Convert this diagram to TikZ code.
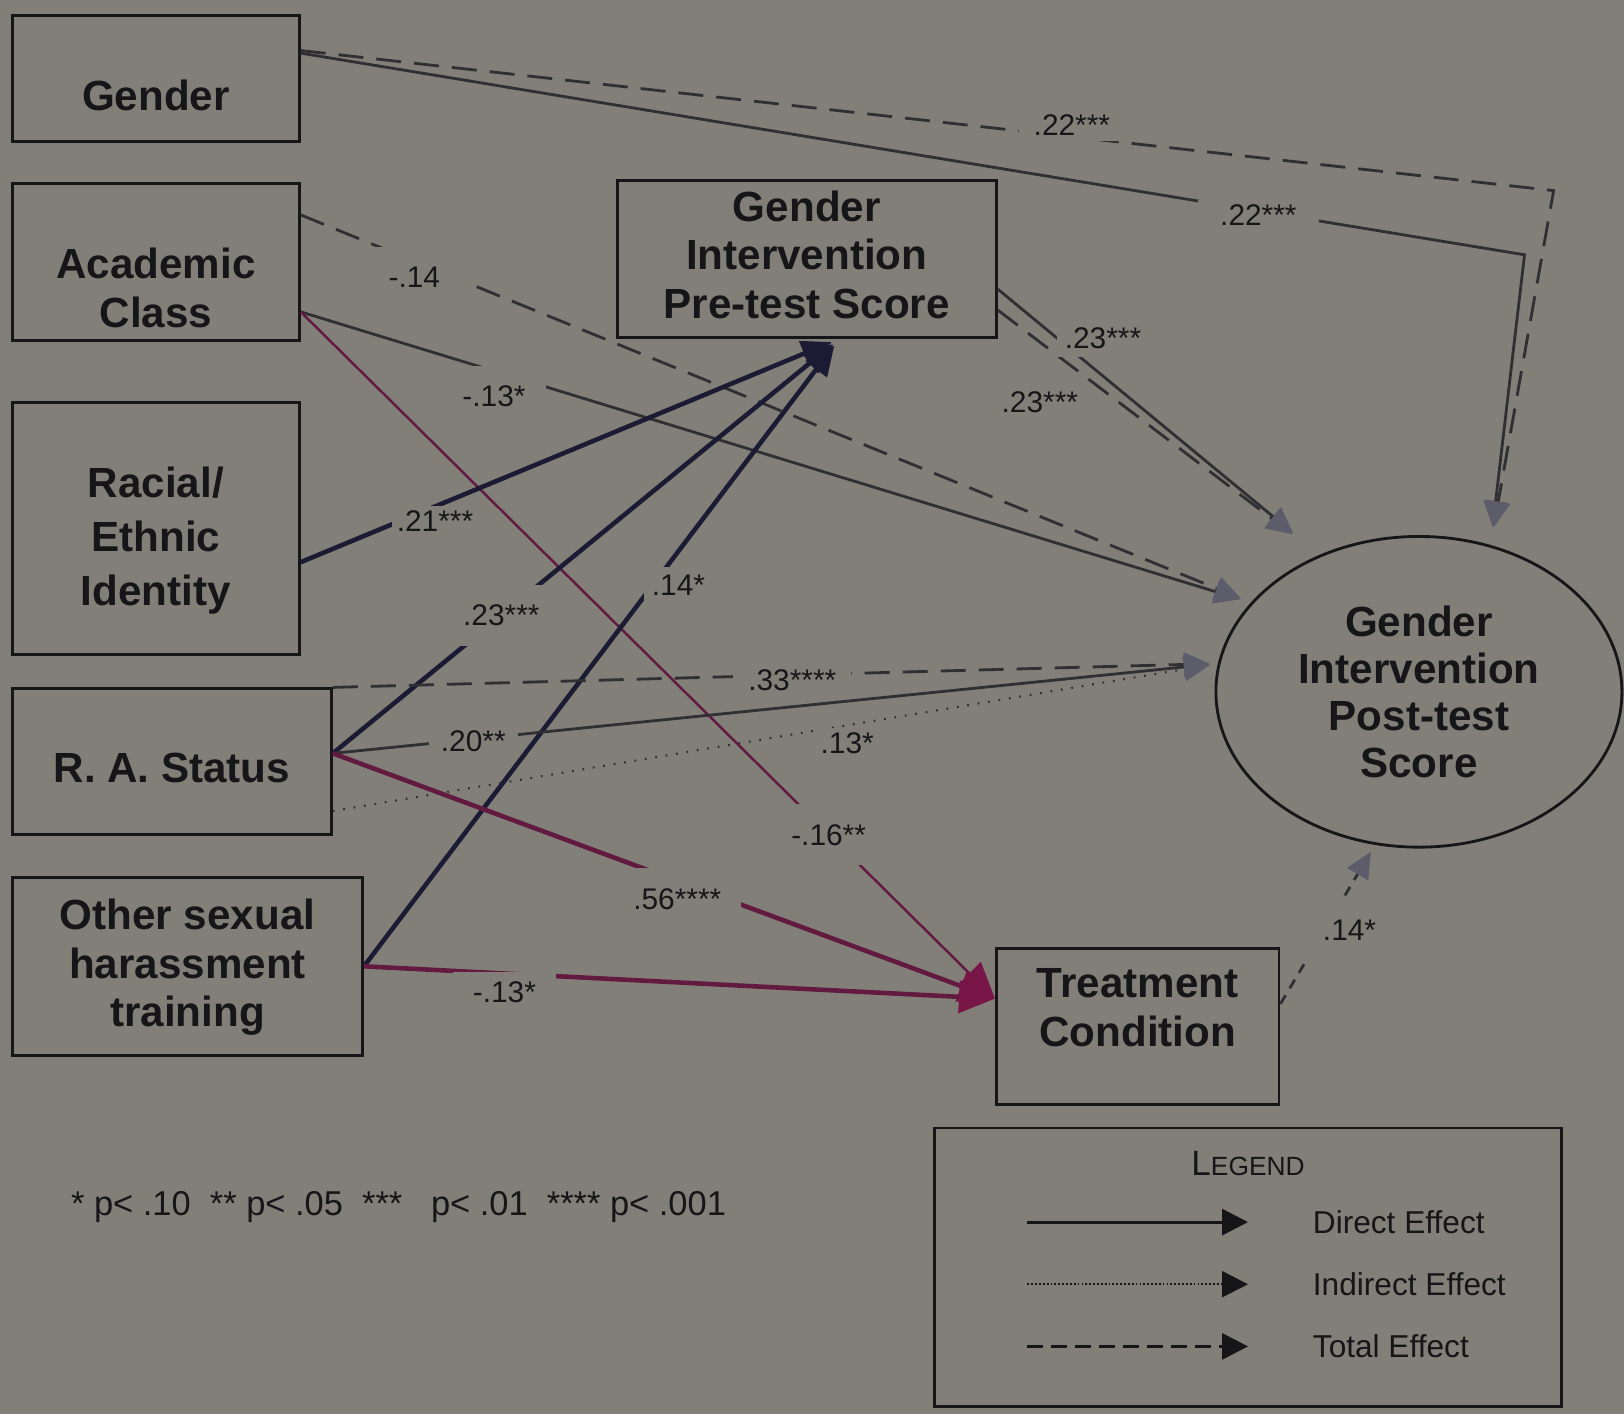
\documentclass[tikz,border=0pt]{standalone}
\usepackage{fontspec}
\setmainfont{Liberation Sans}
\usepackage{tikz}
\usetikzlibrary{shapes.geometric, arrows.meta}
\usepackage{xcolor}
\definecolor{bg}{RGB}{130,127,121}
\definecolor{ink}{RGB}{22,22,24}
\definecolor{navy}{RGB}{28,27,52}
\definecolor{plum}{RGB}{98,26,64}
\definecolor{plumtip}{RGB}{120,22,72}
\definecolor{graytip}{RGB}{92,92,106}
\definecolor{pathgray}{RGB}{48,48,52}

\begin{document}
\begin{tikzpicture}[x=1mm, y=-1mm,
    box/.style={draw=ink, line width=0.8pt, inner sep=0pt},
    boxtext/.style={font=\bfseries\fontsize{12}{13.9}\selectfont, align=center, text=ink},
    lbl/.style={fill=bg, font=\fontsize{8.5}{10}\selectfont, text=ink},
    legtext/.style={font=\fontsize{9}{11}\selectfont, text=ink, inner sep=0pt},
    directline/.style={pathgray, line width=0.8pt},
    totalline/.style={pathgray, line width=0.8pt, dash pattern=on 2.5mm off 1.3mm},
    indirectline/.style={pathgray, line width=0.6pt, dash pattern=on 0.5pt off 2.5pt},
    topost/.style={-{Triangle[length=2.6mm, width=2.4mm, color=graytip]}},
    topre/.style={navy, line width=1.3pt, -{Triangle[length=3mm, width=2.6mm]}, shorten >=0.8mm},
    totreat/.style={plum, line width=1.3pt, -{Triangle[length=3.6mm, width=3.2mm, color=plumtip]}},
    legdirect/.style={ink, line width=0.9pt},
    legindirect/.style={ink, line width=0.6pt, dash pattern=on 0.5pt off 0.6pt},
    legtotal/.style={ink, line width=0.9pt, dash pattern=on 1.6mm off 0.8mm}]

    \fill[bg] (0,0) rectangle (162.4,141.37);
    \useasboundingbox (0,0) rectangle (162.4,141.37);

    \foreach \n/\x/\y/\w/\h/\s/\txt in {
        gender/15.59/7.87/28.69/12.64/-1.66/Gender,
        acad/15.59/26.2/28.69/15.74/-2.59/{Academic\\Class},
        racial/15.59/52.87/28.69/25.17/-1.2/{Racial/\\[1.5pt]Ethnic\\[1.5pt]Identity},
        ra/17.19/76.18/31.9/14.6/-0.57/{R. A. Status},
        other/18.75/96.63/35.01/17.81/-0.1/{Other sexual\\harassment\\training},
        pre/80.68/25.89/37.91/15.74/0.41/{Gender\\Intervention\\Pre-test Score},
        treat/113.77/102.64/28.27/15.54/1.86/{Treatment\\Condition}} {
        \node[box, minimum width=\w mm, minimum height=\h mm,
              label={[boxtext, yshift=\s mm]center:\txt}] (\n) at (\x,\y) {};
    }
    \node[box, boxtext, font=\bfseries\fontsize{12}{13.4}\selectfont, ellipse,
          minimum width=40.6mm, minimum height=31.07mm] (post)
        at (141.89,69.18) {Gender\\Intervention\\Post-test\\Score};

    \coordinate (gc1) at (155.36,19.06);
    \coordinate (gc2) at (152.45,25.48);
    \draw[totalline, topost, shorten >=1.8mm] (gender.11) -- (gc1) -- (post.64);
    \draw[directline, topost, shorten >=1.8mm] (gender.10) -- (gc2) -- (post.64);

    \draw[totalline, topost, shorten >=1.1mm] (acad.18) -- (post.152);
    \draw[directline, topost, shorten >=1.1mm] (acad.341) -- (post.152);
    \draw[totreat, line width=0.7pt] (acad.341) -- (treat.169);

    \draw[topre] (racial.347) -- (pre.292);
    \draw[topre] (ra.3) -- (pre.292);
    \draw[topre] (other.east) -- (pre.292);

    \draw[totalline, topost, shorten >=0.8mm] (ra.north east) -- (post.172);
    \draw[directline, topost, shorten >=0.8mm] (ra.3) -- (post.172);
    \draw[indirectline, topost, shorten >=0.8mm] (ra.343) -- (post.172);
    \draw[totreat] (ra.3) -- (treat.169);
    \draw[totreat] (other.east) -- (treat.169);

    \draw[directline, topost, shorten >=3.4mm] (pre.351) -- (post.126);
    \draw[totalline, topost, shorten >=3.4mm] (pre.345) -- (post.126);
    \draw[totalline, dash pattern=on 1mm off 0.8mm, topost, shorten >=0.8mm] (treat.9) -- (post.254);

    \foreach \x/\y/\sx/\sy/\txt [count=\i] in {107.19/12.53/1.5/0.5/.22***, 125.84/21.54/2.2/0.5/.22***,
        41.43/27.76/2.5/2/-.14, 49.40/39.67/2/2/-.13*, 43.5/52.1/0.5/0.5/.21***, 50.13/61.52/2/2/.23***,
        67.84/58.52/0.8/0.8/.14*, 110.3/33.87/0.8/0.8/.23***, 103.98/40.19/0.8/0.8/.23***,
        79.23/68.05/1.5/0.4/.33****, 47.33/74.16/1.2/0.5/.20**, 84.72/74.36/0.8/0.5/.13*,
        82.86/83.48/2/2/-.16**, 67.73/89.9/2/2/.56****, 50.44/99.22/2/1/-.13*, 134.95/93.01/2/2/.14*} {
        \node[lbl, inner xsep=\sx mm, inner ysep=\sy mm] (lab\i) at (\x,\y) {\txt};
    }

    \node[anchor=west, inner sep=0pt, font=\fontsize{9.8}{12}\selectfont, text=ink] (note) at (7.04,120.66)
        {* p< .10~~** p< .05~~***~~ p< .01~~**** p< .001};

    \node[box, minimum width=62.76mm, minimum height=27.86mm] (legend) at (124.8,126.72) {};
    \node[text=ink] (legtitle) at (124.8,116.31)
        {\fontsize{10}{12}\selectfont L\fontsize{7.5}{9}\selectfont EGEND};
    \foreach \st/\y/\txt [count=\i] in {legdirect/122.21/Direct Effect,
        legindirect/128.42/Indirect Effect, legtotal/134.64/Total Effect} {
        \coordinate (ls\i) at (102.74,\y);
        \coordinate (le\i) at (124.8,\y);
        \draw[\st, -{Triangle[length=2.6mm, width=2.6mm, color=ink]}] (ls\i) -- (le\i);
        \node[legtext, anchor=west] (lt\i) at (131.22,\y) {\txt};
    }
\end{tikzpicture}
\end{document}
